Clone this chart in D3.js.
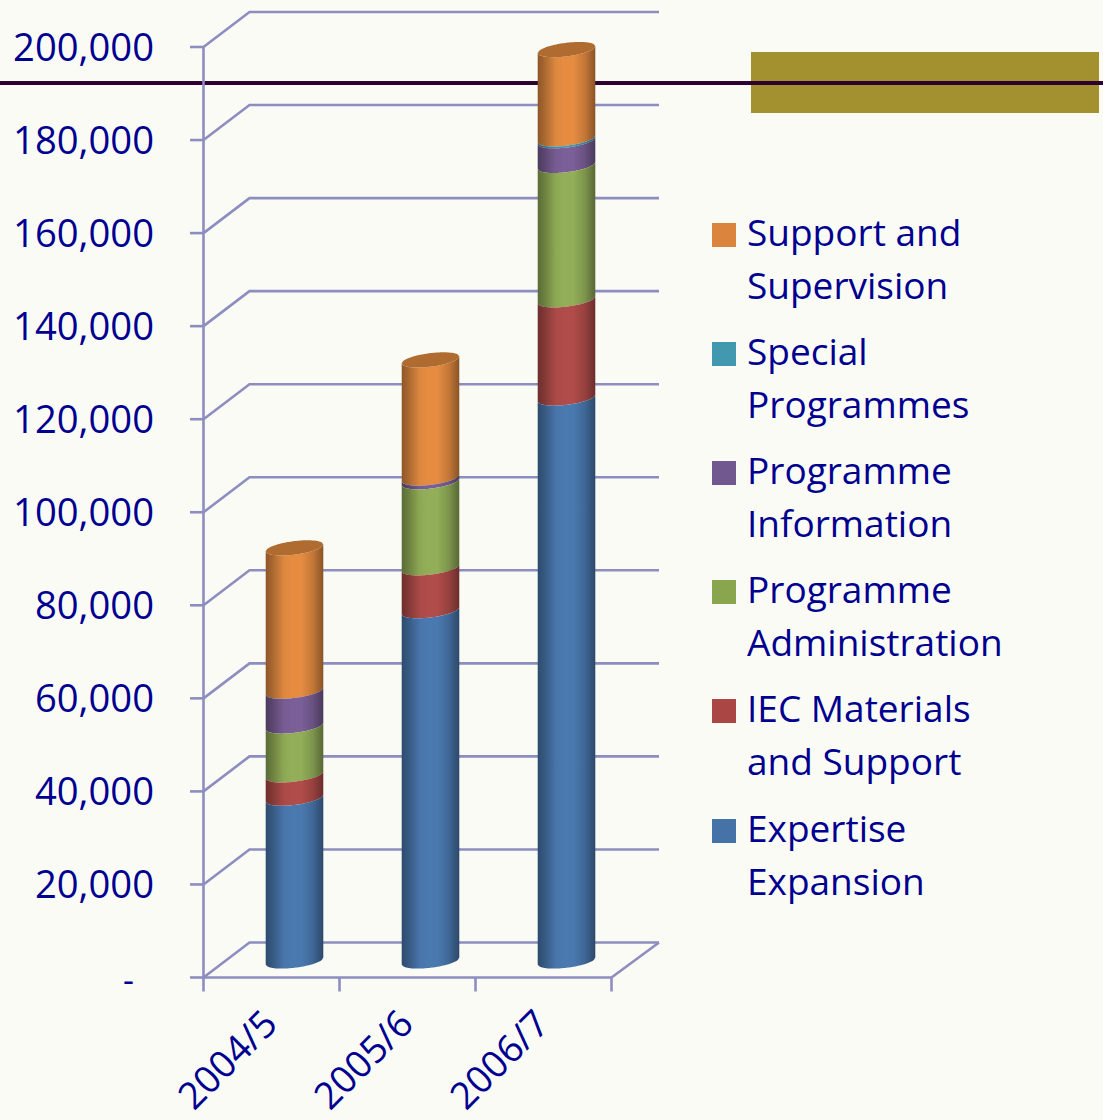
<!DOCTYPE html>
<html><head><meta charset="utf-8">
<style>html,body{margin:0;padding:0;background:#fafbf5}svg{display:block}text{font-family:"Open Sans",Lato,sans-serif;fill:#000090}</style>
<script src="https://cdn.jsdelivr.net/npm/d3@7/dist/d3.min.js"></script>
</head><body><div id="c"></div>
<script>
const categories = ["2004/5","2005/6","2006/7"];
const seriesNames = ["Expertise Expansion","IEC Materials and Support","Programme Administration","Programme Information","Special Programmes","Support and Supervision"];
const expertise = [35000,75300,121000];
const iec = [5000,9200,21100];
const administration = [10500,18500,28900];
const information = [7500,800,5300];
const special = [0,0,400];
const support = [30800,25400,19200];
const colors = ["#4a79b0","#b04c49","#92ae58","#7b5f98","#4198af","#e58c41"];
const capColors = ["#3a5f8a","#8a3a38","#6f8a42","#5f4a78","#327a8c","#b06c30"];
const legendColors = ["#4572a7","#aa4643","#89a54e","#71588f","#4198af","#db843d"];
const yTicks = [0,20000,40000,60000,80000,100000,120000,140000,160000,180000,200000];
const legendLines = [["Support and","Supervision"],["Special","Programmes"],["Programme","Information"],["Programme","Administration"],["IEC Materials","and Support"],["Expertise","Expansion"]];
const legendOrder = [5,4,3,2,1,0];
const allSeries = [expertise,iec,administration,information,special,support];

const W=1103,H=1120;
const svg=d3.select("#c").append("svg").attr("width",W).attr("height",H);
svg.append("rect").attr("width",W).attr("height",H).attr("fill","#fafbf5");
svg.append("rect").attr("x",751).attr("y",52).attr("width",348).attr("height",61).attr("fill","#a3912f");
svg.append("line").attr("x1",0).attr("x2",W).attr("y1",83).attr("y2",83).attr("stroke","#2e0030").attr("stroke-width",4);

const y=d3.scaleLinear().domain([0,200000]).range([977.5,47]);
const x=d3.scaleBand().domain(categories).range([203.5,611.5]);
const dx=46,dy=-35,grid="#8d8dc0",gw=2.6;
const g=svg.append("g");
const path=(pts)=>d3.line()(pts);
yTicks.forEach(t=>{
  g.append("path").attr("fill","none").attr("stroke",grid).attr("stroke-width",gw)
   .attr("d",path([[x.range()[0],y(t)],[x.range()[0]+dx,y(t)+dy],[x.range()[1]+dx+1.5,y(t)+dy]]));
  g.append("line").attr("x1",190).attr("x2",x.range()[0]).attr("y1",y(t)).attr("y2",y(t)).attr("stroke",grid).attr("stroke-width",gw);
  g.append("text").attr("x",t===0?134:154).attr("y",y(t)+14).attr("text-anchor","end").attr("font-size",t===0?34:38.2).text(t===0?"-":d3.format(",")(t));
});
g.append("line").attr("x1",x.range()[0]).attr("x2",x.range()[0]).attr("y1",y(200000)).attr("y2",y(0)+14).attr("stroke",grid).attr("stroke-width",gw);
g.append("line").attr("x1",x.range()[0]).attr("x2",x.range()[1]).attr("y1",y(0)).attr("y2",y(0)).attr("stroke",grid).attr("stroke-width",gw);
g.append("line").attr("x1",x.range()[1]).attr("x2",x.range()[1]+dx+1.5).attr("y1",y(0)).attr("y2",y(0)+dy).attr("stroke",grid).attr("stroke-width",gw);
categories.forEach((c,i)=>{
  const tx=x(c)+x.bandwidth();
  g.append("line").attr("x1",tx).attr("x2",tx).attr("y1",y(0)).attr("y2",y(0)+14).attr("stroke",grid).attr("stroke-width",gw);
  const cx=x(c)+x.bandwidth()/2;
  g.append("text").attr("transform",`translate(${cx+8},1026) rotate(-45)`).attr("text-anchor","end").attr("font-size",37.5).text(c);
});

const defs=svg.append("defs");
colors.forEach((col,i)=>{
  const lg=defs.append("linearGradient").attr("id","g"+i).attr("x1",0).attr("x2",1).attr("y1",0).attr("y2",0);
  const base=d3.color(col);
  [[0,.62],[.1,.72],[.32,.97],[.45,1],[.62,1],[.82,.85],[1,.6]].forEach(([o,k])=>{
    lg.append("stop").attr("offset",o).attr("stop-color",d3.rgb(base.r*k,base.g*k,base.b*k).formatHex());
  });
});
const rx=28.8,ry=6.8,tilt=3.4,floatY=dy/2+1;
const ts=d3.range(-1,1.0001,0.05);
const front=(cx,cy)=>ts.map(t=>[cx+t*rx,cy-tilt*t+ry*Math.sqrt(Math.max(0,1-t*t))]);
const back=(cx,cy)=>ts.map(t=>[cx+t*rx,cy-tilt*t-ry*Math.sqrt(Math.max(0,1-t*t))]);
categories.forEach((c,i)=>{
  const cx=x(c)+x.bandwidth()/2+dx/2;
  let cum=0;
  const segs=allSeries.map((s,k)=>{const a=cum;cum+=s[i];return{k,a,b:cum};}).filter(d=>d.b>d.a);
  const bars=g.append("g");
  segs.slice().reverse().forEach(d=>{
    const lower=front(cx,y(d.a)+floatY), upper=front(cx,y(d.b)+floatY).reverse();
    bars.append("path").attr("d",d3.line()(lower.concat(upper))+"Z").attr("fill",`url(#g${d.k})`);
  });
  const top=segs[segs.length-1];
  const cy=y(top.b)+floatY;
  bars.append("path").attr("d",d3.line()(front(cx,cy).concat(back(cx,cy).reverse()))+"Z").attr("fill",capColors[top.k]);
});

const legendTop=[235,354,473,592,711,831];
legendOrder.forEach((k,i)=>{
  const ly=legendTop[i];
  svg.append("rect").attr("x",712).attr("y",ly-12).attr("width",24).attr("height",24).attr("fill",legendColors[k]);
  legendLines[i].forEach((t,j)=>{
    svg.append("text").attr("x",747).attr("y",ly+11+j*52.5).attr("font-size",37).text(t);
  });
});
</script></body></html>
